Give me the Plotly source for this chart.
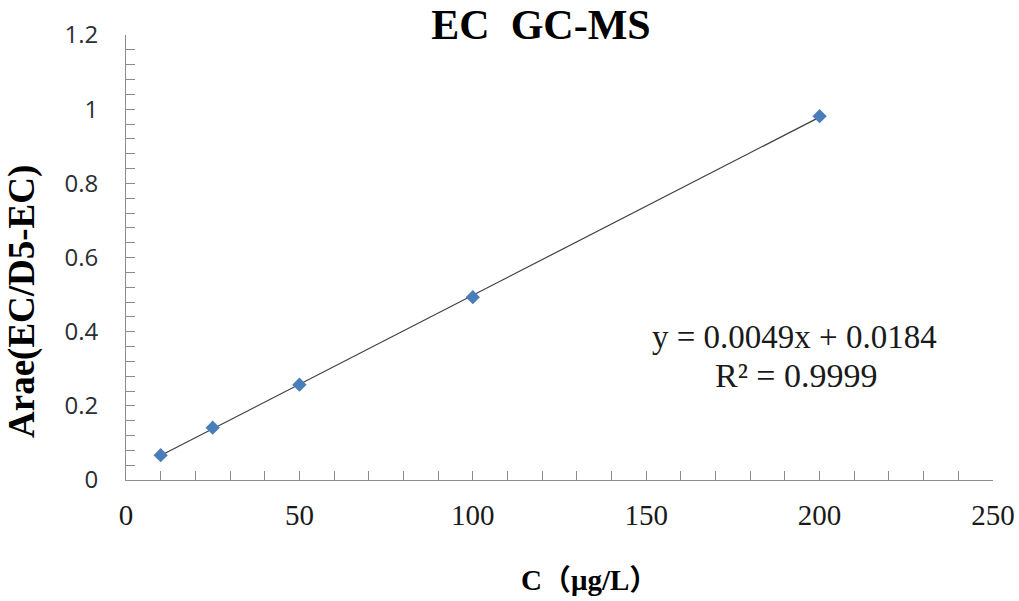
import numpy as np
import plotly.graph_objects as go

# Data
conc = [10, 25, 50, 100, 200]            # C (µg/L)
area_ratio = [0.067, 0.141, 0.257, 0.493, 0.981]  # Arae(EC/D5-EC)

title_text = "EC  GC-MS"
x_title = "C（μg/L）"
y_title = "Arae(EC/D5-EC)"
eq_text = "y = 0.0049x + 0.0184"
r2_text = "R² = 0.9999"

# Linear trendline computed from the data
slope, intercept = np.polyfit(conc, area_ratio, 1)
tx = [min(conc), max(conc)]
ty = [slope * v + intercept for v in tx]

fig = go.Figure()
fig.add_trace(go.Scatter(x=tx, y=ty, mode="lines",
                         line=dict(color="#3f3f3f", width=1.2),
                         hoverinfo="skip", showlegend=False))
fig.add_trace(go.Scatter(x=conc, y=area_ratio, mode="markers",
                         marker=dict(symbol="diamond", size=11, color="#4a7ebb",
                                     line=dict(width=0)),
                         showlegend=False))

W, H = 1019, 601
L, R, T, B = 126, 993, 35, 480

SERIF = "Liberation Serif, Times New Roman, serif"

axis_common = dict(showline=True, linecolor="#8c8c8c", linewidth=1,
                   ticks="inside", ticklen=9, tickcolor="#8c8c8c", tickwidth=1,
                   showgrid=False, zeroline=False, mirror=False, automargin=False)

fig.update_layout(
    width=W, height=H,
    margin=dict(l=L, r=W - R, t=T, b=H - B),
    plot_bgcolor="white", paper_bgcolor="white",
    title=dict(text="<b>" + title_text + "</b>", x=541 / W, xanchor="center",
               y=1 - 24 / H, yanchor="middle", yref="container",
               font=dict(family=SERIF, size=42, color="black")),
    xaxis=dict(range=[0, 250], tick0=0, dtick=50,
               minor=dict(dtick=10, ticks="inside", ticklen=9, tickcolor="#8c8c8c"),
               tickfont=dict(family=SERIF, size=29, color="#1a1a1a"),
               ticklabelstandoff=9, **axis_common),
    yaxis=dict(range=[0, 1.2], tick0=0, dtick=0.2,
               minor=dict(dtick=0.04, ticks="inside", ticklen=9, tickcolor="#8c8c8c"),
               tickfont=dict(family="Open Sans", size=24, color="#2a2f33"),
               ticklabelstandoff=22, **axis_common),
    annotations=[
        dict(text="<b>" + x_title + "</b>", xref="paper", yref="paper",
             x=(589 - L) / (R - L), y=-(580 - B) / (B - T),
             xanchor="center", yanchor="middle", showarrow=False,
             font=dict(family="Liberation Serif, Noto Sans CJK SC", size=29, color="black")),
        dict(text="<b>" + y_title + "</b>", xref="paper", yref="paper",
             x=-(L - 22) / (R - L), y=(B - 302) / (B - T), textangle=-90,
             xanchor="center", yanchor="middle", showarrow=False,
             font=dict(family=SERIF, size=37, color="black")),
        dict(text=eq_text, xref="paper", yref="paper",
             x=(794 - L) / (R - L), y=(B - 337) / (B - T),
             xanchor="center", yanchor="middle", showarrow=False,
             font=dict(family=SERIF, size=33, color="#1a1a1a")),
        dict(text=r2_text, xref="paper", yref="paper",
             x=(796 - L) / (R - L), y=(B - 375) / (B - T),
             xanchor="center", yanchor="middle", showarrow=False,
             font=dict(family=SERIF, size=34, color="#1a1a1a")),
    ],
)

fig.write_html("out.html")
